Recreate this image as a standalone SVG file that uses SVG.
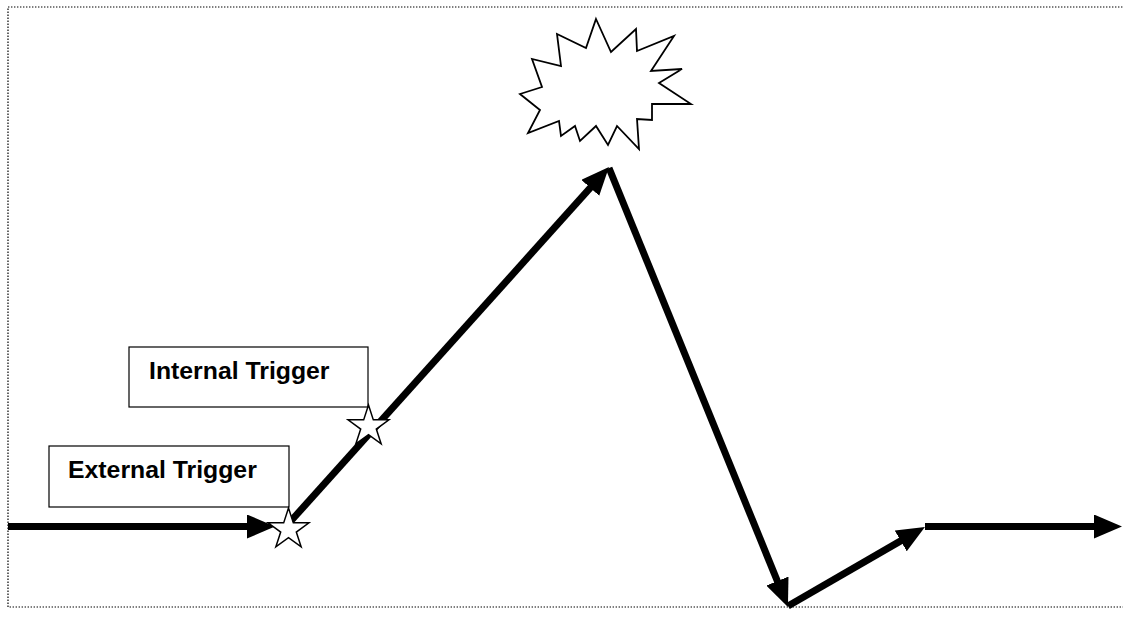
<svg xmlns="http://www.w3.org/2000/svg" width="1123" height="619" viewBox="0 0 1123 619">
<style>
.box{fill:#fff;stroke:#000;stroke-width:1.2}
.lbl{font-family:"Liberation Sans",Arial,sans-serif;font-weight:bold;font-size:24.8px;fill:#000}
.arr{stroke:#000;stroke-width:7;fill:none;stroke-linecap:butt}
.star{fill:#fff;stroke:#000;stroke-width:1.5;stroke-linejoin:miter}
</style>
<defs>
<marker id="ah" viewBox="0 0 28 24" refX="12" refY="12" markerWidth="28" markerHeight="24" markerUnits="userSpaceOnUse" orient="auto">
<path d="M0,0 L28,12 L0,24 Z" fill="#000"/>
</marker>
<path id="starShape" d="M0,-21.5 L4.82,-6.63 L20.45,-6.64 L7.8,2.53 L12.64,17.39 L0,8.2 L-12.64,17.39 L-7.8,2.53 L-20.45,-6.64 L-4.82,-6.63 Z"/>
</defs>
<rect x="0" y="0" width="1123" height="619" fill="#fff"/>
<rect id="frame" x="8" y="7" width="1140" height="600" fill="none" stroke="#000" stroke-width="1.2" stroke-dasharray="1.4 1.6"/>
<g id="burst">
<polygon points="596,19 611,52 636,29 637,51 674,36 651,71 682,69 659,83 691,104 652,104 652,120 637,119 639,149 617,126 608,145 596,126 580,141 575,126 561,136 559,121 528,133 540,110 520,94 542,87 532,59 561,66 557,34 586,48" fill="#fff" stroke="#000" stroke-width="1.8" stroke-linejoin="miter"/>
</g>
<g id="connectors">
<line class="arr" x1="8" y1="526.5" x2="259" y2="526.5" marker-end="url(#ah)"/>
<line class="arr" x1="290" y1="522" x2="598.3" y2="178.9" marker-end="url(#ah)"/>
<line class="arr" x1="609" y1="168" x2="781.9" y2="592.2" marker-end="url(#ah)"/>
<line class="arr" x1="788" y1="606" x2="911.1" y2="534.9" marker-end="url(#ah)"/>
<line class="arr" x1="925" y1="526.5" x2="1106" y2="526.5" marker-end="url(#ah)"/>
</g>
<g id="internal-trigger">
<rect class="box" x="129" y="347" width="239" height="60"/>
<text class="lbl" x="149" y="379">Internal Trigger</text>
</g>
<g id="external-trigger">
<rect class="box" x="49" y="446" width="240" height="61"/>
<text class="lbl" x="68" y="478">External Trigger</text>
</g>
<g id="star-external">
<use href="#starShape" class="star" transform="translate(288.5,529.5)"/>
</g>
<g id="star-internal">
<use href="#starShape" class="star" transform="translate(368.5,426.5)"/>
</g>
</svg>
